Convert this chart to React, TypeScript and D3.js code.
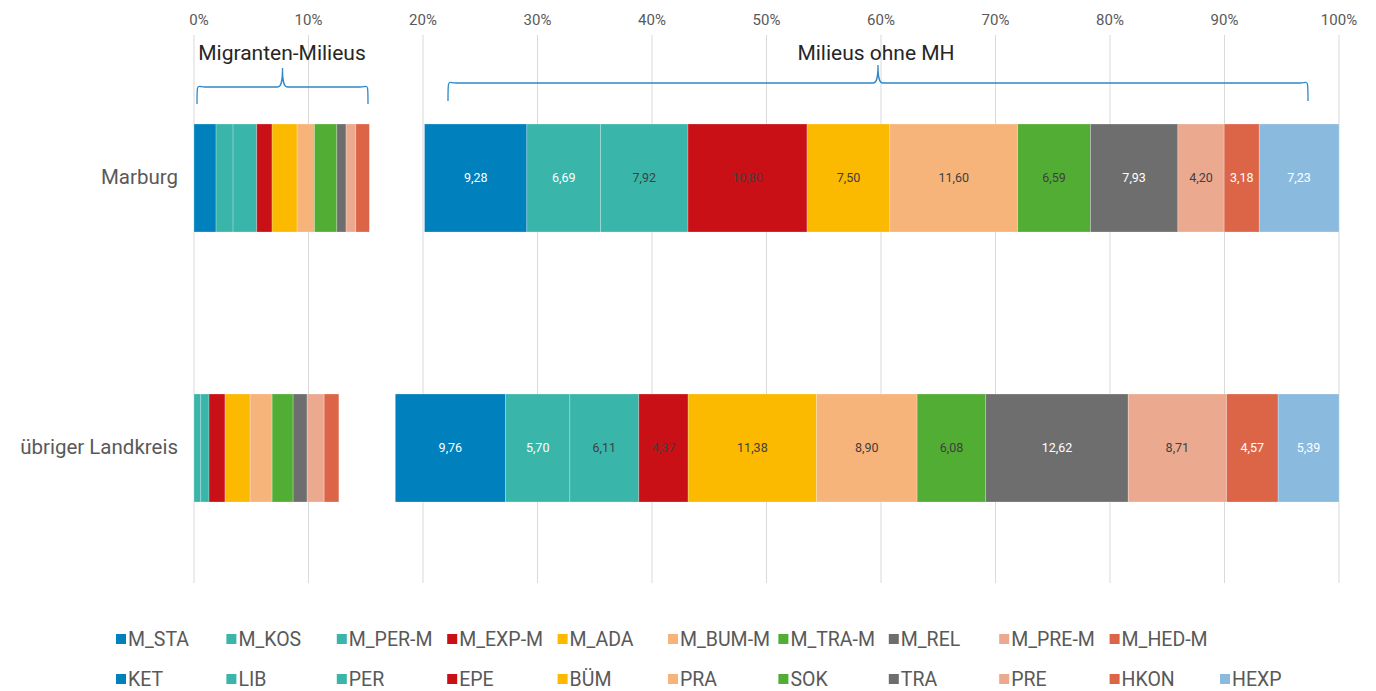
import * as React from 'react';
import * as d3 from 'd3';

// Kategorien (Zeilen)
const categories = ['Marburg', 'übriger Landkreis'];

// Migranten-Milieus
const migrantKeys = ['M_STA', 'M_KOS', 'M_PER-M', 'M_EXP-M', 'M_ADA', 'M_BUM-M', 'M_TRA-M', 'M_REL', 'M_PRE-M', 'M_HED-M'];
const migrantMarburg = [2.0, 1.54, 2.15, 1.39, 2.27, 1.57, 2.03, 0.84, 0.88, 1.23];
const migrantLandkreis = [0, 0.6, 0.73, 1.42, 2.22, 1.95, 1.86, 1.24, 1.51, 1.3];

// unsichtbarer Abstandhalter zwischen den Gruppen
const spacer = [5, 5];

// Milieus ohne MH
const nativeKeys = ['KET', 'LIB', 'PER', 'EPE', 'BÜM', 'PRA', 'SOK', 'TRA', 'PRE', 'HKON', 'HEXP'];
const nativeMarburg = [9.28, 6.69, 7.92, 10.8, 7.5, 11.6, 6.59, 7.93, 4.2, 3.18, 7.23];
const nativeLandkreis = [9.76, 5.7, 6.11, 4.37, 11.38, 8.9, 6.08, 12.62, 8.71, 4.57, 5.39];

const xTicks = [0, 0.1, 0.2, 0.3, 0.4, 0.5, 0.6, 0.7, 0.8, 0.9, 1];

const migrantColors = ['#0080bc', '#3ab5aa', '#3ab5aa', '#c91016', '#fbb900', '#f6b47b', '#52ad34', '#6e6e6e', '#ebaa90', '#dc6447'];
const nativeColors = ['#0080bc', '#3ab5aa', '#3ab5aa', '#c91016', '#fbb900', '#f6b47b', '#52ad34', '#6e6e6e', '#ebaa90', '#dc6447', '#8abadd'];
const nativeLabelColors = ['#fff', '#fff', '#404040', '#404040', '#404040', '#404040', '#404040', '#fff', '#404040', '#fff', '#fff'];

const W = 1376, H = 691;
const FONT = 'Roboto, "DejaVu Sans", sans-serif';

interface Seg { key: string; x0: number; x1: number; color: string; label?: string; labelColor?: string; group: string }

export default function App() {
    const x = d3.scaleLinear().domain([0, 1]).range([194, 1339]);
    const y = d3.scaleBand<string>().domain(categories).range([43, 583]).paddingInner(0.6).paddingOuter(0.3);
    const fmt = d3.format('.0%');
    const num = (v: number) => v.toFixed(2).replace('.', ',');

    const rows = categories.map((cat, ci) => {
        const mig = ci === 0 ? migrantMarburg : migrantLandkreis;
        const nat = ci === 0 ? nativeMarburg : nativeLandkreis;
        const total = d3.sum(mig) + spacer[ci] + d3.sum(nat);
        const segs: Seg[] = [];
        let acc = 0;
        mig.forEach((v, i) => {
            segs.push({ key: migrantKeys[i], x0: acc / total, x1: (acc + v) / total, color: migrantColors[i], group: 'm' });
            acc += v;
        });
        acc += spacer[ci];
        nat.forEach((v, i) => {
            segs.push({ key: nativeKeys[i], x0: acc / total, x1: (acc + v) / total, color: nativeColors[i], label: num(v), labelColor: nativeLabelColors[i], group: 'n' });
            acc += v;
        });
        return { cat, segs };
    });

    // geschweifte Klammer
    const brace = (xa: number, xb: number, yTop: number, yMid: number, yBot: number) => {
        const xm = (xa + xb) / 2;
        const r = 8;
        return `M${xa},${yBot} C${xa},${yMid - 6} ${xa},${yMid} ${xa + r},${yMid} L${xm - 5},${yMid} C${xm - 1},${yMid} ${xm},${yMid - 6} ${xm},${yTop}` +
            ` C${xm},${yMid - 6} ${xm + 1},${yMid} ${xm + 5},${yMid} L${xb - r},${yMid} C${xb},${yMid} ${xb},${yMid - 6} ${xb},${yBot}`;
    };

    const legendRows = [
        migrantKeys.map((k, i) => ({ k, c: migrantColors[i] })),
        nativeKeys.map((k, i) => ({ k, c: nativeColors[i] })),
    ];

    return (
        <svg width={W} height={H} style={{ position: 'absolute', left: 0, top: 0, background: '#fff' }} fontFamily={FONT}>
            {xTicks.map((t) => (
                <g key={t}>
                    <line x1={x(t)} x2={x(t)} y1={35} y2={583} stroke="#d9d9d9" strokeWidth={1} />
                    <text x={x(t) + (t === 0 ? 5 : 0)} y={25} textAnchor="middle" fontSize={15} fill="#595959">{fmt(t)}</text>
                </g>
            ))}

            {rows.map((row) => (
                <g key={row.cat}>
                    <text x={178} y={(y(row.cat) as number) + y.bandwidth() / 2} dy="0.3em" textAnchor="end" fontSize={20.5} fill="#595959">{row.cat}</text>
                    {row.segs.map((s, i) => (
                        <g key={i}>
                            <rect x={x(s.x0)} y={y(row.cat)} width={x(s.x1) - x(s.x0)} height={y.bandwidth()} fill={s.color} stroke="#fff" strokeOpacity={0.3} strokeWidth={0.8} />
                            {s.label && (
                                <text x={(x(s.x0) + x(s.x1)) / 2} y={(y(row.cat) as number) + y.bandwidth() / 2} dy="0.35em" textAnchor="middle" fontSize={12.5} fill={s.labelColor}>{s.label}</text>
                            )}
                        </g>
                    ))}
                </g>
            ))}

            <path d={brace(197, 368, 68, 87, 104)} fill="none" stroke="#2e88c8" strokeWidth={1.3} />
            <text x={282} y={60} textAnchor="middle" fontSize={21} fill="#262626">Migranten-Milieus</text>
            <path d={brace(448, 1308, 65, 83, 101)} fill="none" stroke="#2e88c8" strokeWidth={1.3} />
            <text x={876} y={60} textAnchor="middle" fontSize={21} fill="#262626">Milieus ohne MH</text>

            {legendRows.map((r, ri) => (
                <g key={ri} transform={`translate(0, ${639 + ri * 40})`}>
                    {r.map((it, i) => (
                        <g key={it.k} transform={`translate(${116 + i * 110.4}, 0)`}>
                            <rect x={0} y={-5} width={10} height={10} fill={it.c} />
                            <text x={12} y={0} dy="0.35em" fontSize={19.5} fill="#595959">{it.k}</text>
                        </g>
                    ))}
                </g>
            ))}
        </svg>
    );
}
